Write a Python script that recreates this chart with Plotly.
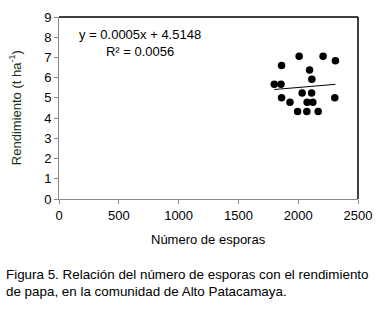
import plotly.graph_objects as go

esporas = [1800, 1856, 1861, 1861, 1931, 2008, 1995, 2033, 2095, 2114, 2112, 2075, 2122, 2072, 2167, 2208, 2311, 2306]
rendimiento = [5.68, 5.68, 6.6, 5.01, 4.78, 7.06, 4.33, 5.24, 6.38, 5.92, 5.24, 4.78, 4.78, 4.33, 4.33, 7.06, 6.84, 5.01]
slope, intercept = 0.0005, 4.5148
x_ticks = [0, 500, 1000, 1500, 2000, 2500]
y_ticks = list(range(0, 10))

font = "Liberation Sans, Arial, sans-serif"
xmin, xmax = min(esporas), max(esporas)

W, H = 382, 311
L, R, T, B = 59, 23, 10, 112
pw, ph = W - L - R, H - T - B

fig = go.Figure()
fig.add_trace(go.Scatter(x=esporas, y=rendimiento, mode="markers",
                         marker=dict(color="black", size=7.5), showlegend=False))
fig.add_trace(go.Scatter(x=[xmin, xmax], y=[slope * xmin + intercept, slope * xmax + intercept],
                         mode="lines", line=dict(color="black", width=1), showlegend=False))

fig.update_layout(
    width=W, height=H,
    margin=dict(l=L, r=R, t=T, b=B),
    paper_bgcolor="white", plot_bgcolor="white",
    font=dict(family=font, size=13, color="black"),
    xaxis=dict(range=[0, 2500], tickvals=x_ticks, showgrid=False, zeroline=False,
               showline=True, linecolor="#888", linewidth=1, ticks="outside", ticklen=4,
               tickcolor="#888", tickfont=dict(size=13)),
    yaxis=dict(range=[0, 9], tickvals=y_ticks, showgrid=False, zeroline=False,
               showline=True, linecolor="#888", linewidth=1, ticks="outside", ticklen=4,
               tickcolor="#888", tickfont=dict(size=13)),
)
fig.add_shape(type="line", xref="paper", yref="paper", x0=0, x1=1, y0=1, y1=1,
              line=dict(color="black", width=1.5))
fig.add_shape(type="line", xref="paper", yref="paper", x0=1, x1=1, y0=0, y1=1,
              line=dict(color="black", width=1.5))

fig.add_annotation(x=680, y=7.7, xref="x", yref="y", showarrow=False,
                   text="y = 0.0005x + 4.5148<br>R² = 0.0056", align="center",
                   font=dict(size=13))
fig.add_annotation(x=0.5, y=(H - B - 241) / ph, xref="paper", yref="paper", showarrow=False,
                   text="Número de esporas", font=dict(size=13), yanchor="middle")
fig.add_annotation(x=(15 - L) / pw, y=0.5, xref="paper", yref="paper", showarrow=False,
                   text="Rendimiento (t ha<sup>-1</sup>)", textangle=-90,
                   font=dict(size=13, color="#1e2e1e"), xanchor="center", yanchor="middle")
fig.add_annotation(x=(4 - L) / pw, y=(H - B - 286) / ph, xref="paper", yref="paper",
                   showarrow=False,
                   text="Figura 5. Relación del número de esporas con el rendimiento<br>de papa, en la comunidad de Alto Patacamaya.",
                   align="left", xanchor="left", yanchor="middle", font=dict(size=13.4))

fig.write_html("out.html", config={"displayModeBar": False},
               post_script="document.body.style.margin='0';")
